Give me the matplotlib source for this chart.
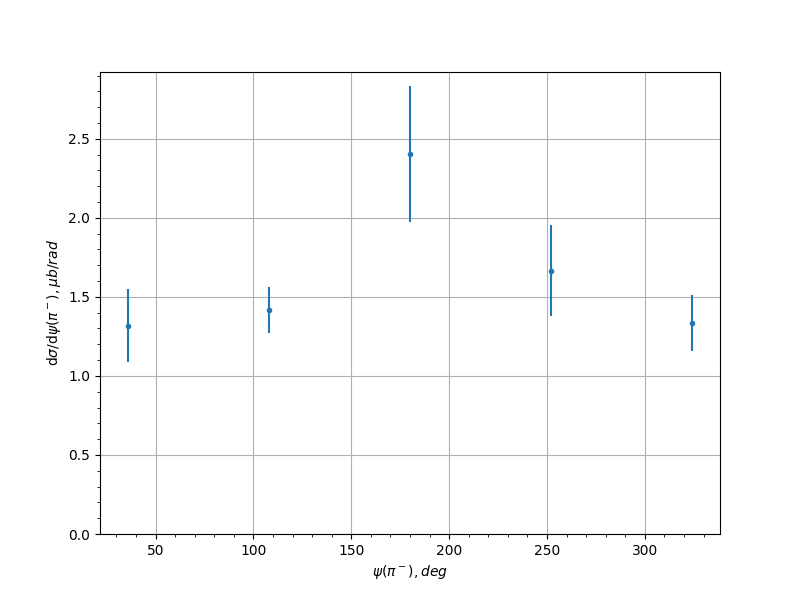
import matplotlib
matplotlib.use("Agg")
import matplotlib.pyplot as plt

psi = [36, 108, 180, 252, 324]
dsigma = [1.316, 1.418, 2.405, 1.665, 1.335]
err = [0.231, 0.145, 0.430, 0.288, 0.180]

fig = plt.figure(figsize=(8, 6), dpi=100)
plt.errorbar(psi, dsigma, yerr=err, fmt='.')
plt.ylim(bottom=0)
plt.minorticks_on()
plt.grid(which='major')
plt.xlabel(r'$\psi(\pi^-), deg$')
plt.ylabel(r'd$\sigma$/d$\psi(\pi^-), \mu b/rad$')
plt.savefig("out.png")
